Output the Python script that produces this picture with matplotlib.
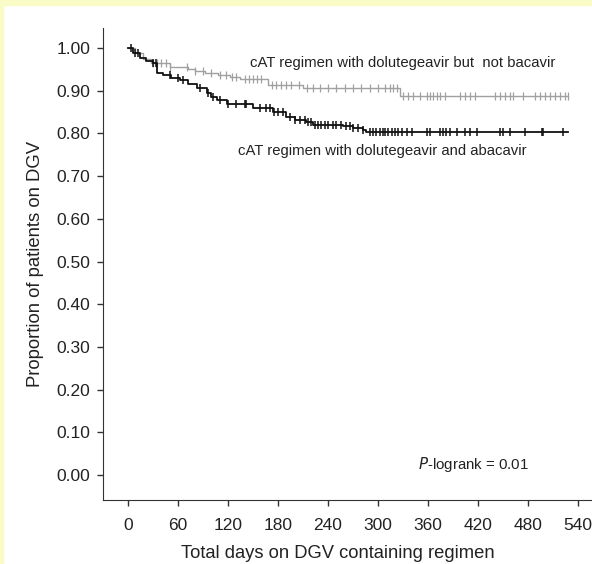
import numpy as np
import matplotlib.pyplot as plt
from matplotlib.patches import Rectangle

plt.rcParams['font.family'] = ['Liberation Sans', 'DejaVu Sans']

# Kaplan-Meier steps (days, proportion on DGV)
dtg_no_abc_t = [0, 8, 18, 28, 50, 72, 80, 92, 108, 122, 134, 168, 210, 326, 528]
dtg_no_abc_s = [1.00, 0.988, 0.975, 0.965, 0.956, 0.952, 0.947, 0.941, 0.937, 0.932, 0.927, 0.913, 0.906, 0.888, 0.888]
dtg_no_abc_cens = [30, 35, 40, 45, 50, 71, 80, 90, 100, 110, 118, 125, 130, 140, 145, 150,
                   155, 160, 173, 178, 184, 190, 196, 205, 215, 222, 230, 240, 250, 260,
                   270, 280, 290, 300, 308, 314, 318, 323, 330, 336, 342, 350, 359, 362,
                   366, 371, 374, 380, 398, 404, 410, 416, 440, 446, 452, 458, 462, 474,
                   488, 494, 500, 506, 512, 518, 524, 528]

dtg_abc_t = [0, 6, 14, 22, 30, 35, 42, 52, 62, 72, 83, 95, 100, 107, 119, 150, 174,
             190, 200, 214, 222, 258, 270, 282, 286, 528]
dtg_abc_s = [1.00, 0.988, 0.977, 0.970, 0.965, 0.941, 0.937, 0.930, 0.925, 0.915, 0.906,
             0.895, 0.885, 0.878, 0.868, 0.859, 0.850, 0.838, 0.832, 0.827, 0.819, 0.817,
             0.812, 0.808, 0.804, 0.804]
dtg_abc_cens = [3, 8, 12, 30, 34, 50, 60, 66, 86, 96, 102, 110, 120, 130, 140, 142, 158,
                165, 170, 175, 180, 186, 194, 200, 206, 212, 216, 220, 224, 228, 232, 236,
                240, 246, 250, 256, 262, 266, 270, 276, 282, 290, 294, 298, 302, 306, 308,
                312, 317, 320, 324, 329, 335, 341, 359, 362, 374, 378, 382, 386, 395, 404,
                410, 419, 446, 450, 458, 476, 497, 498, 522]

x_ticks = [0, 60, 120, 180, 240, 300, 360, 420, 480, 540]
y_ticks = [0.0, 0.1, 0.2, 0.3, 0.4, 0.5, 0.6, 0.7, 0.8, 0.9, 1.0]


def step_at(t, times, surv):
    idx = np.searchsorted(times, t, side='right') - 1
    return np.asarray(surv)[idx]


fig = plt.figure(figsize=(5.92, 5.64), dpi=100)
fig.patch.set_facecolor('white')
yellow = '#fafcc8'
fig.patches.append(Rectangle((0, 0), 3 / 592, 1, transform=fig.transFigure, color=yellow, zorder=0))
fig.patches.append(Rectangle((0, 1 - 5 / 564), 1, 5 / 564, transform=fig.transFigure, color=yellow, zorder=0))

ax = fig.add_axes([103 / 592, 1 - 500 / 564, 1 - 103 / 592, (500 - 28) / 564])

gray = '#a0a0a0'
black = '#111111'
ax.step(dtg_no_abc_t, dtg_no_abc_s, where='post', color=gray, lw=1.0)
ax.plot(dtg_no_abc_cens, step_at(dtg_no_abc_cens, dtg_no_abc_t, dtg_no_abc_s), ls='none',
        marker='|', ms=5.5, mew=0.9, color=gray)
ax.step(dtg_abc_t, dtg_abc_s, where='post', color=black, lw=1.3)
ax.plot(dtg_abc_cens, step_at(dtg_abc_cens, dtg_abc_t, dtg_abc_s), ls='none',
        marker='|', ms=5.5, mew=1.1, color=black)

ax.set_xlim(-30, 556.8)
ax.set_ylim(-0.0585, 1.047)
ax.set_xticks(x_ticks)
ax.set_yticks(y_ticks)
ax.set_yticklabels(['%.2f' % v for v in y_ticks])
for s in ['top', 'right']:
    ax.spines[s].set_visible(False)
for s in ['left', 'bottom']:
    ax.spines[s].set_color('#333333')
ax.tick_params(axis='both', direction='out', length=4, width=1, color='#333333',
               labelsize=12.5, labelcolor='#222222')
ax.tick_params(axis='x', pad=9)
ax.tick_params(axis='y', pad=5)

ax.set_ylabel('Proportion of patients on DGV', fontsize=13.3, color='#222222')
ax.yaxis.set_label_coords(-0.12, 0.5)
ax.set_xlabel('Total days on DGV containing regimen', fontsize=13.2, color='#222222')
ax.xaxis.set_label_coords(0.481, -0.096)

ax.text(330, 0.966, 'cAT regimen with dolutegeavir but  not bacavir', fontsize=10.7,
        color='#222222', ha='center', va='center')
ax.text(305, 0.760, 'cAT regimen with dolutegeavir and abacavir', fontsize=10.7,
        color='#222222', ha='center', va='center')
ax.text(414, 0.025, '$\\it{P}$-logrank = 0.01', fontsize=10.8, color='#222222',
        ha='center', va='center')

fig.savefig('out.png', dpi=100)
